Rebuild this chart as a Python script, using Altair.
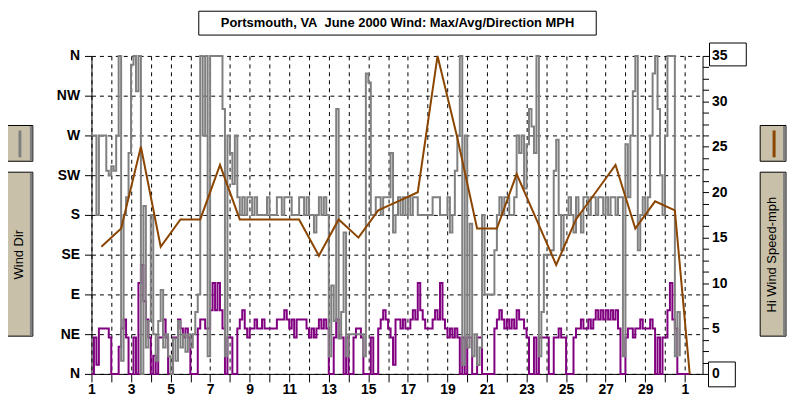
import altair as alt
import pandas as pd

FONT = "Liberation Sans"
BEIGE = "#c8c0a8"
GRAY = "#808080"
PURPLE = "#800080"
BROWN = "#8b4500"

# Wind direction, degrees (0 = N at bottom, 360 = N at top), 3-hourly from June 1 00h
wind_dir = [
    270, 270, 180, 270, 270, 270, 230, 225,   # 1
    235, 230, 270, 360, 15, 180, 200, 250,    # 2
    350, 360, 320, 360, 0, 190, 30, 60,       # 3
    180, 45, 15, 60, 95, 30, 45, 20,          # 4
    0, 40, 15, 60, 30, 45, 25, 45,            # 5
    30, 45, 70, 90, 360, 270, 360, 20,        # 6
    360, 360, 360, 360, 360, 300, 20, 270,    # 7
    250, 215, 270, 200, 180, 200, 180, 200,   # 8
    200, 180, 200, 180, 180, 180, 180, 200,   # 9
    180, 180, 180, 200, 200, 180, 200, 200,   # 10
    200, 180, 180, 180, 200, 200, 180, 200,   # 11
    180, 180, 160, 180, 200, 180, 200, 180,   # 12
    20, 100, 60, 300, 40, 70, 160, 20,        # 13
    45, 45, 45, 45, 45, 45, 20, 340,          # 14
    330, 180, 180, 200, 200, 180, 200, 200,   # 15
    200, 250, 160, 180, 200, 180, 200, 180,   # 16
    200, 180, 200, 200, 180, 180, 180, 180,   # 17
    180, 180, 200, 200, 200, 180, 180, 180,   # 18
    200, 160, 180, 230, 270, 360, 10, 270,    # 19
    30, 170, 20, 45, 10, 30, 180, 90,         # 20
    90, 90, 90, 140, 180, 200, 180, 200,      # 21
    200, 180, 180, 200, 270, 250, 270, 210,   # 22
    260, 300, 280, 250, 360, 20, 70, 135,     # 23
    135, 135, 140, 230, 265, 180, 140, 180,   # 24
    180, 200, 180, 160, 200, 180, 160, 200,   # 25
    200, 180, 200, 200, 180, 200, 200, 180,   # 26
    200, 180, 200, 200, 180, 200, 200, 20,    # 27
    260, 200, 270, 320, 360, 140, 180, 200,   # 28
    180, 200, 270, 340, 360, 300, 225, 180,   # 29
    270, 360, 360, 360, 20, 70, 20,           # 30
]

# Average wind speed, mph, 3-hourly from June 1 00h
avg_speed = [
    0, 4, 1, 5, 5, 5, 5, 4,      # 1
    0, 0, 0, 3, 5, 6, 4, 0,      # 2
    0, 4, 0, 10, 12, 8, 6, 4,    # 3
    0, 2, 0, 4, 4, 6, 4, 0,      # 4
    0, 4, 4, 6, 5, 4, 5, 4,      # 5
    0, 0, 0, 5, 6, 6, 5, 5,      # 6
    7, 10, 7, 10, 7, 5, 0, 4,    # 7
    4, 0, 0, 5, 6, 7, 5, 4,      # 8
    5, 5, 6, 5, 5, 6, 5, 5,      # 9
    5, 5, 5, 6, 6, 6, 7, 6,      # 10
    5, 6, 4, 6, 6, 6, 6, 5,      # 11
    4, 5, 4, 5, 6, 5, 6, 5,      # 12
    0, 0, 4, 6, 4, 4, 0, 4,      # 13
    0, 0, 4, 5, 5, 4, 0, 0,      # 14
    0, 4, 0, 0, 5, 6, 7, 6,      # 15
    5, 4, 1, 6, 6, 5, 6, 5,      # 16
    5, 6, 7, 6, 10, 7, 6, 5,     # 17
    5, 5, 6, 7, 6, 10, 6, 5,     # 18
    4, 5, 4, 5, 4, 0, 4, 0,      # 19
    4, 4, 0, 0, 4, 4, 0, 0,      # 20
    0, 0, 0, 5, 6, 7, 6, 5,      # 21
    6, 5, 6, 5, 7, 6, 6, 5,      # 22
    4, 0, 0, 4, 0, 4, 4, 4,      # 23
    4, 0, 0, 4, 4, 5, 4, 4,      # 24
    0, 0, 0, 4, 5, 5, 6, 5,      # 25
    5, 6, 5, 6, 7, 6, 7, 6,      # 26
    7, 6, 7, 6, 7, 5, 0, 0,      # 27
    4, 5, 5, 4, 5, 5, 6, 5,      # 28
    5, 5, 6, 5, 0, 4, 0, 4,      # 29
    4, 7, 10, 6, 5, 0, 0, 0,     # 30
    0, 0, 0,                     # July 1
]

# Daily high wind speed, mph
max_day = [1.5, 2.5, 3.5, 4.5, 5.5, 6.5, 7.5, 8.5, 9.5, 10.5, 11.5, 12.5, 13.5, 14.5,
           15.5, 16.5, 17.5, 18.5, 19.5, 20.5, 21.5, 22.5, 23.5, 24.5, 25.5, 26.5,
           27.5, 28.5, 29.5, 30.5, 31.25]
max_speed = [14, 16, 25, 14, 17, 17, 23, 17, 17, 17, 17, 13, 17, 15,
             18, 19, 20, 35, 26, 16, 16, 22, 17, 12, 17, 20,
             23, 16, 19, 18, 0]

day_ticks = list(range(1, 32))
dir_ticks = [0, 45, 90, 135, 180, 225, 270, 315, 360]
speed_ticks = [i * 1.25 for i in range(29)]

df_dir = pd.DataFrame({"day": [1 + i / 8 for i in range(len(wind_dir))], "dir": wind_dir})
df_avg = pd.DataFrame({"day": [1 + i / 8 for i in range(len(avg_speed))], "avg": avg_speed})
df_max = pd.DataFrame({"day": max_day, "hi": max_speed})
one = pd.DataFrame({"k": [0]})

XS = alt.Scale(domain=[1, 31.9], nice=False, zero=False)
SPEED = alt.Scale(domain=[0, 35], nice=False, zero=False)

label_style = dict(labelFont=FONT, labelFontSize=14, labelFontWeight="bold",
                   labelColor="black", labelOverlap=False, labelFlush=False, title=None,
                   domainColor="black", domainWidth=1, tickColor="black", tickWidth=1)

x_axis = alt.Axis(
    orient="bottom", values=day_ticks,
    labelExpr="datum.value % 2 == 1 ? (datum.value == 31 ? '1' : format(datum.value, 'd')) : ''",
    grid=True, gridColor="black", gridDash=[4, 4], gridOpacity=1, gridWidth=1,
    tickSize=8, labelPadding=1, **label_style,
)
y_left = alt.Axis(
    orient="left", values=dir_ticks,
    labelExpr="['N','NE','E','SE','S','SW','W','NW','N'][round(datum.value / 45)]",
    grid=True, gridColor="black", gridDash=[4, 4], gridOpacity=1, gridWidth=1,
    tickSize=7, labelPadding=5, **label_style,
)
y_right = alt.Axis(
    orient="right", values=speed_ticks,
    labelExpr="datum.value % 5 == 0 ? format(datum.value, 'd') : ''",
    grid=False, tickSize=6, labelPadding=3, **label_style,
)

X = alt.X("day:Q", scale=XS, axis=x_axis)

avg_line = alt.Chart(df_avg).mark_line(
    interpolate="step-after", color=PURPLE, strokeWidth=2
).encode(
    x=X,
    y=alt.Y("avg:Q", scale=SPEED, axis=y_right),
)
dir_line = alt.Chart(df_dir).mark_line(
    interpolate="step-after", color=GRAY, strokeWidth=2
).encode(
    x=X,
    y=alt.Y("dir:Q", scale=alt.Scale(domain=[0, 360], nice=False, zero=False), axis=y_left),
)
max_line = alt.Chart(df_max).mark_line(color=BROWN, strokeWidth=2).encode(
    x=X,
    y=alt.Y("hi:Q", scale=SPEED, axis=None),
)


def box(x1, x2, y1, y2, fill, opacity=1, stroke="black"):
    return alt.Chart(one).mark_rect(fill=fill, fillOpacity=opacity, stroke=stroke, strokeWidth=1).encode(
        x=alt.value(x1), x2=alt.value(x2), y=alt.value(y1), y2=alt.value(y2))


def bar(x1, x2, y1, y2, fill):
    return alt.Chart(one).mark_rect(fill=fill).encode(
        x=alt.value(x1), x2=alt.value(x2), y=alt.value(y1), y2=alt.value(y2))


def label(txt, x, y, size, weight="normal", angle=0):
    return alt.Chart(one).mark_text(
        text=txt, font=FONT, fontSize=size, fontWeight=weight, color="black",
        align="center", baseline="middle", angle=angle
    ).encode(x=alt.value(x), y=alt.value(y))


decor = [
    # title
    box(108, 508, -45, -21, "white"),
    label("Portsmouth, VA\u00a0 June 2000 Wind: Max/Avg/Direction MPH", 308, -33, 13, "bold"),
    # left legend
    box(-85, -59, 70, 106, BEIGE),
    bar(-62, -59.5, 70.5, 105.5, GRAY),
    bar(-73.5, -70.5, 75, 102, GRAY),
    box(-85, -59, 117, 282, BEIGE),
    bar(-62, -59.5, 117.5, 281.5, GRAY),
    label("Wind Dir", -73, 200, 13, angle=270),
    # right legend
    box(673, 699, 70, 106, BEIGE),
    bar(696, 698.5, 70.5, 105.5, GRAY),
    bar(685.5, 688.5, 75, 102, BROWN),
    box(673, 699, 117, 282, BEIGE),
    bar(696, 698.5, 117.5, 281.5, GRAY),
    label("Hi Wind Speed-mph", 685, 200, 13, angle=270),
    # boxed end labels of right axis
    box(622, 659, -13, 10, "white", opacity=0),
    box(621, 648, 308, 333, "white", opacity=0),
]

chart = alt.layer(avg_line, dir_line, max_line, *decor).resolve_scale(
    y="independent"
).resolve_axis(y="independent").properties(
    width=615, height=320,
    autosize=alt.AutoSizeParams(type="none"),
    padding={"left": 84, "top": 47, "right": 86, "bottom": 22},
    background="white",
).configure_view(stroke=None)

chart.save("out.html", embed_options={"renderer": "svg", "actions": False})
